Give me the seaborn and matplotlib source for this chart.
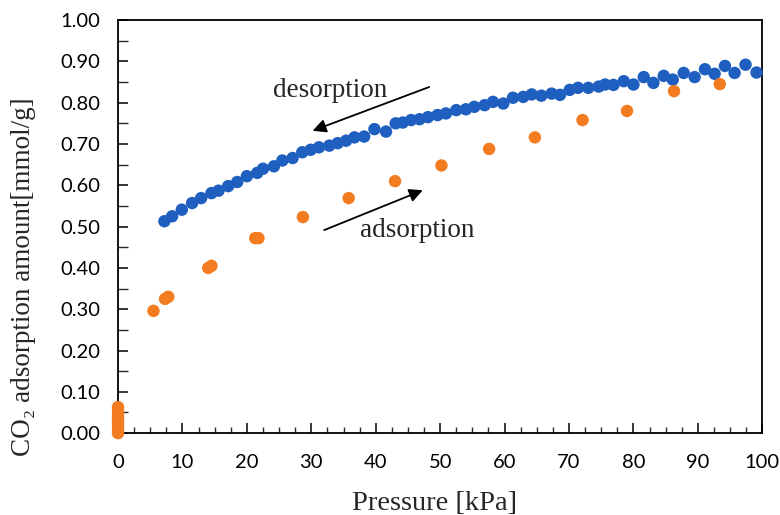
import matplotlib
matplotlib.use("Agg")
import matplotlib.pyplot as plt
from matplotlib.ticker import MultipleLocator, FormatStrFormatter
import seaborn as sns
import pandas as pd

# ---- data ----
desorption_p = [7.2, 8.4, 9.9, 11.5, 12.9, 14.5, 15.6, 17.1, 18.5, 20.0, 21.6, 22.5, 24.2, 25.5,
                27.1, 28.6, 29.9, 31.2, 32.8, 34.1, 35.4, 36.7, 38.2, 39.8,
                41.6, 43.1, 44.2, 45.5, 46.8, 48.1, 49.6, 50.9, 52.5, 54.0, 55.3,
                56.9, 58.2, 59.8, 61.3, 62.9, 64.2, 65.7, 67.3, 68.6, 70.1, 71.4, 73.0, 74.6,
                75.6, 76.9, 78.5, 80.0, 81.6, 83.1, 84.7, 86.1, 87.8, 89.5, 91.1, 92.6, 94.2, 95.7, 97.4, 99.1]
desorption_q = [0.513, 0.525, 0.541, 0.557, 0.569, 0.581, 0.587, 0.598, 0.608, 0.622, 0.630, 0.640, 0.646, 0.660,
                0.666, 0.680, 0.686, 0.692, 0.696, 0.702, 0.708, 0.716, 0.718, 0.736,
                0.730, 0.750, 0.752, 0.758, 0.760, 0.765, 0.770, 0.774, 0.782, 0.784, 0.790,
                0.794, 0.802, 0.798, 0.812, 0.814, 0.820, 0.817, 0.822, 0.819, 0.831, 0.836, 0.836, 0.839,
                0.844, 0.843, 0.852, 0.844, 0.862, 0.848, 0.865, 0.856, 0.872, 0.862, 0.881, 0.870, 0.889, 0.872, 0.892, 0.873]

adsorption_p = [0.0, 0.0, 0.0, 0.0, 0.0, 0.0, 0.0, 0.0, 0.0,
                5.5, 7.3, 7.8, 14.0, 14.5, 21.3, 21.8, 28.7, 35.8, 43.0, 50.2,
                57.6, 64.7, 72.1, 79.0, 86.3, 93.4]
adsorption_q = [0.000, 0.008, 0.016, 0.024, 0.032, 0.040, 0.048, 0.056, 0.063,
                0.296, 0.325, 0.330, 0.400, 0.405, 0.472, 0.472, 0.523, 0.569, 0.610, 0.648,
                0.688, 0.716, 0.758, 0.780, 0.828, 0.845]

series_names = ["desorption", "adsorption"]
series_colors = ["#1f5fbf", "#f47c20"]

x_label = "Pressure [kPa]"
y_label = "CO\u2082 adsorption amount[mmol/g]"

df = pd.concat([
    pd.DataFrame({"p": desorption_p, "q": desorption_q, "series": series_names[0]}),
    pd.DataFrame({"p": adsorption_p, "q": adsorption_q, "series": series_names[1]}),
], ignore_index=True)

# ---- style ----
sns.set_style("ticks")
plt.rcParams["font.family"] = ["Lato", "DejaVu Sans"]

fig = plt.figure(figsize=(7.8, 5.15), dpi=100)
ax = fig.add_axes([0.1513, 0.159, 0.826, 0.802])

sns.scatterplot(data=df, x="p", y="q", hue="series", hue_order=series_names,
                palette=dict(zip(series_names, series_colors)), s=80, linewidth=0,
                legend=False, ax=ax, clip_on=False, zorder=3)

ax.set_xlim(0, 100)
ax.set_ylim(0, 1.0)
ax.xaxis.set_major_locator(MultipleLocator(10))
ax.xaxis.set_minor_locator(MultipleLocator(2.5))
ax.yaxis.set_major_locator(MultipleLocator(0.1))
ax.yaxis.set_minor_locator(MultipleLocator(0.05))
ax.yaxis.set_major_formatter(FormatStrFormatter("%.2f"))

ax.tick_params(which="major", direction="in", length=7, width=1.1, labelsize=14.5,
               colors="black", top=False, right=False)
ax.tick_params(which="minor", direction="in", length=4.5, width=1.0,
               top=False, right=False)
ax.tick_params(axis="x", which="major", pad=15)
ax.tick_params(axis="y", which="major", pad=13)
ax.tick_params(axis="y", which="minor", length=7)

for sp in ax.spines.values():
    sp.set_visible(True)
    sp.set_color("black")
    sp.set_linewidth(1.3)

serif = ["Liberation Serif", "DejaVu Serif"]
ax.set_xlabel(x_label, fontsize=20.5, family=serif)
ax.set_ylabel(y_label, fontsize=19.5, family=serif)
ax.xaxis.set_label_coords(0.492, -0.14)
ax.yaxis.set_label_coords(-0.128, 0.378)

ax.annotate("", xy=(30.2, 0.732), xytext=(48.3, 0.838),
            arrowprops=dict(arrowstyle="-|>", color="black", lw=1.3, mutation_scale=20,
                            shrinkA=0, shrinkB=0))
ax.text(32.9, 0.830, "desorption", fontsize=19.5, family=serif, ha="center", va="center")

ax.annotate("", xy=(47.3, 0.588), xytext=(32.0, 0.4915),
            arrowprops=dict(arrowstyle="-|>", color="black", lw=1.3, mutation_scale=20,
                            shrinkA=0, shrinkB=0))
ax.text(46.5, 0.490, "adsorption", fontsize=19.5, family=serif, ha="center", va="center")

fig.savefig("out.png", dpi=100)
